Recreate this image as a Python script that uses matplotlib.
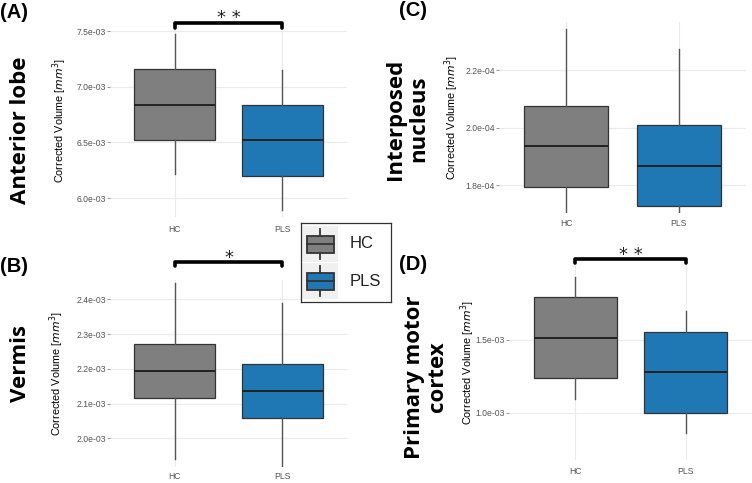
import matplotlib.pyplot as plt
from matplotlib.patches import Rectangle
import matplotlib.transforms as mtransforms

groups = ['HC', 'PLS']
colors = ['#7f7f7f', '#1f77b4']

# box stats per panel: [whislo, q1, med, q3, whishi]
anterior_hc = [6.22e-3, 6.52e-3, 6.84e-3, 7.16e-3, 7.47e-3]
anterior_pls = [5.89e-3, 6.20e-3, 6.52e-3, 6.84e-3, 7.15e-3]
interposed_hc = [1.69e-4, 1.793e-4, 1.935e-4, 2.077e-4, 2.342e-4]
interposed_pls = [1.69e-4, 1.726e-4, 1.868e-4, 2.010e-4, 2.274e-4]
vermis_hc = [1.942e-3, 2.117e-3, 2.195e-3, 2.273e-3, 2.448e-3]
vermis_pls = [1.91e-3, 2.060e-3, 2.137e-3, 2.214e-3, 2.390e-3]
motor_hc = [1.096e-3, 1.238e-3, 1.514e-3, 1.792e-3, 1.929e-3]
motor_pls = [0.865e-3, 0.998e-3, 1.276e-3, 1.553e-3, 1.694e-3]

anterior_ticks = [6.0e-3, 6.5e-3, 7.0e-3, 7.5e-3]
interposed_ticks = [1.8e-4, 2.0e-4, 2.2e-4]
vermis_ticks = [2.0e-3, 2.1e-3, 2.2e-3, 2.3e-3, 2.4e-3]
motor_ticks = [1.0e-3, 1.5e-3]

W, H = 752, 483
fig = plt.figure(figsize=(W / 100, H / 100), dpi=100)
fig.patch.set_facecolor('white')


def px_axes(x0, y0, x1, y1):
    return fig.add_axes([x0 / W, 1 - y1 / H, (x1 - x0) / W, (y1 - y0) / H])


def panel(rect, hc, pls, ticks, ylim, xpad, label_x, sig=None, bracket_y=None):
    ax = px_axes(*rect)
    stats = []
    for g, s in zip(groups, [hc, pls]):
        stats.append(dict(label=g, whislo=s[0], q1=s[1], med=s[2], q3=s[3],
                          whishi=s[4], fliers=[]))
    bp = ax.bxp(stats, positions=[1, 2], widths=0.75, patch_artist=True,
                showcaps=False,
                boxprops=dict(edgecolor='#333333', linewidth=0.9),
                medianprops=dict(color='#222222', linewidth=1.4),
                whiskerprops=dict(color='#555555', linewidth=1.0))
    for b, c in zip(bp['boxes'], colors):
        b.set_facecolor(c)
    for k in bp:
        for a in bp[k]:
            a.set_zorder(3)
    ax.set_xlim(0.4, 2.6)
    ax.set_ylim(*ylim)
    ax.set_yticks(ticks)
    ax.set_yticklabels(['%.1e' % t for t in ticks])
    ax.grid(True, color='#ebebeb', linewidth=0.8, zorder=0)
    ax.set_axisbelow(True)
    for sp in ax.spines.values():
        sp.set_visible(False)
    ax.tick_params(axis='y', length=2, width=0.6, color='#888888', pad=1,
                   labelsize=6.2, labelcolor='#555555')
    ax.tick_params(axis='x', length=0, pad=xpad, labelsize=6.2,
                   labelcolor='#555555')
    for t in ax.get_xticklabels() + ax.get_yticklabels():
        t.set_fontfamily('Liberation Sans')
    ax.set_ylabel(r'Corrected Volume [$mm^3$]', fontsize=7.8,
                  fontfamily='Liberation Sans')
    x0, _, x1, _ = rect
    ax.yaxis.set_label_coords((label_x + 11 - x0) / (x1 - x0), 0.5)
    if sig is not None:
        tr = mtransforms.blended_transform_factory(ax.transData, ax.transAxes)
        top, leg, star = bracket_y
        ax.plot([1, 1, 2, 2], [leg, top, top, leg], color='black', lw=2.6,
                transform=tr, clip_on=False, solid_joinstyle='round',
                solid_capstyle='round')
        ax.text(1.5, star, sig, transform=tr, ha='center', va='center',
                fontsize=13, fontfamily='DejaVu Sans', color='#222222')
    return ax


panel((110, 25, 347, 217), anterior_hc, anterior_pls, anterior_ticks,
      (5.83e-3, 7.554e-3), 6.0, 58, '* *', (1.01, 0.984, 1.035))
panel((499, 22, 746, 213), interposed_hc, interposed_pls, interposed_ticks,
      (1.703e-4, 2.368e-4), 4.6, 450)
panel((110, 280, 347, 467), vermis_hc, vermis_pls, vermis_ticks,
      (1.918e-3, 2.456e-3), 3.8, 55, '*', (1.096, 1.075, 1.12))
panel((509, 265, 752, 460), motor_hc, motor_pls, motor_ticks,
      (0.678e-3, 2.01e-3), 5.2, 466, '* *', (1.031, 1.01, 1.053))

# row titles
tkw = dict(rotation=90, ha='center', va='center', fontsize=16,
           fontweight='bold', fontfamily='Open Sans', linespacing=1.1)
fig.text(21 / W, 1 - 130 / H, 'Anterior lobe', **tkw)
fig.text(407 / W, 1 - 119 / H, 'Interposed\nnucleus', **tkw)
fig.text(20 / W, 1 - 363 / H, 'Vermis', **tkw)
fig.text(426 / W, 1 - 377 / H, 'Primary motor\ncortex', **tkw)

# panel letters
lkw = dict(ha='left', va='center', fontsize=14.5, fontweight='bold',
           fontfamily='Liberation Sans')
fig.text(0 / W, 1 - 12 / H, '(A)', **lkw)
fig.text(399 / W, 1 - 10 / H, '(C)', **lkw)
fig.text(0 / W, 1 - 266 / H, '(B)', **lkw)
fig.text(399 / W, 1 - 265 / H, '(D)', **lkw)

# legend
lg = px_axes(301, 223, 391, 302)
lg.set_xlim(0, 90)
lg.set_ylim(79, 0)
lg.set_xticks([])
lg.set_yticks([])
for sp in lg.spines.values():
    sp.set_color('#333333')
    sp.set_linewidth(0.9)
for i, (g, c) in enumerate(zip(groups, colors)):
    y0 = 3 + i * 37
    lg.add_patch(Rectangle((1, y0), 36, 36, facecolor='#f0f0f0',
                           edgecolor='none'))
    lg.plot([19, 19], [y0 + 3, y0 + 33], color='#333333', lw=1.3)
    lg.add_patch(Rectangle((5.5, y0 + 9.5), 27, 17, facecolor=c,
                           edgecolor='#333333', lw=1.3, zorder=3))
    lg.plot([5.5, 32.5], [y0 + 18, y0 + 18], color='#333333', lw=1.3, zorder=4)
    lg.text(49, y0 + 18, g, ha='left', va='center', fontsize=12,
            fontfamily='Liberation Sans', color='#222222')

fig.savefig('out.png', dpi=100)
